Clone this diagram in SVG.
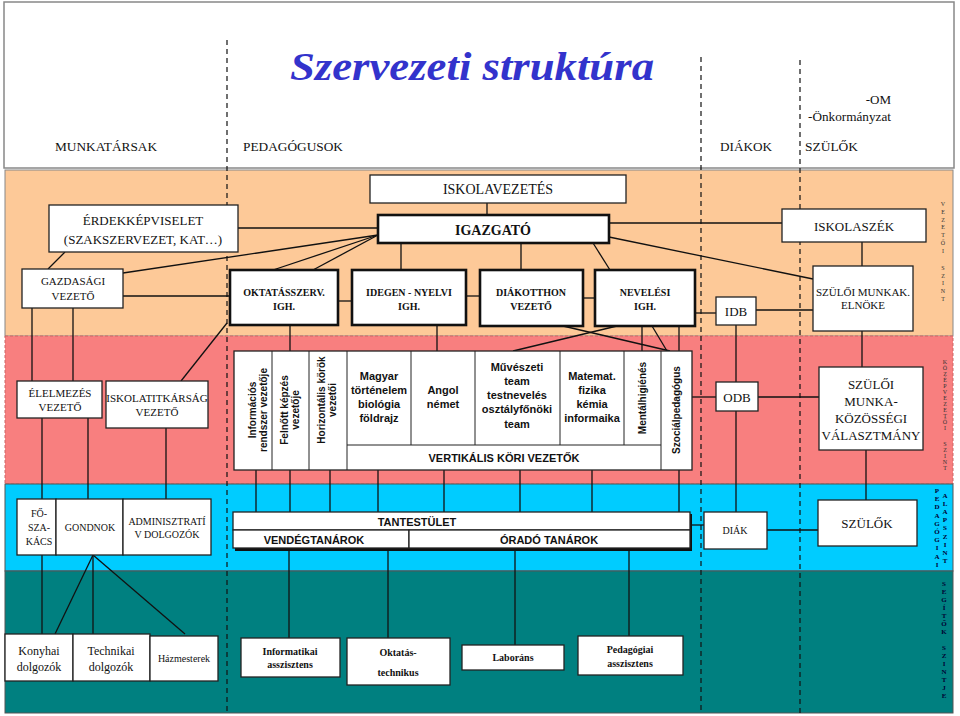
<svg xmlns="http://www.w3.org/2000/svg" width="960" height="716" viewBox="0 0 960 716">
<style>
.b{fill:#fff;stroke:#222;stroke-width:1.3}
.bt{fill:#fff;stroke:#111;stroke-width:2.6}
.s{font-family:"Liberation Serif","Times New Roman","DejaVu Serif",serif;fill:#111;text-anchor:middle}
.sb{font-family:"Liberation Serif","Times New Roman","DejaVu Serif",serif;font-weight:bold;fill:#111;text-anchor:middle}
.a{font-family:"Liberation Sans",Arial,sans-serif;font-weight:bold;fill:#111;text-anchor:middle;font-size:11px}
.ar{font-family:"Liberation Sans",Arial,sans-serif;font-weight:bold;fill:#111;text-anchor:middle;font-size:10px}
.v{font-family:"Liberation Serif","DejaVu Serif",serif;font-size:6px;fill:#333;text-anchor:middle}
.vb{font-family:"Liberation Serif","DejaVu Serif",serif;font-size:7px;fill:#003;text-anchor:middle;font-weight:bold}
.h{font-family:"Liberation Serif","Times New Roman","DejaVu Serif",serif;font-size:13px;fill:#111}
#conn line{stroke:#111;stroke-width:1.3;fill:none}
.d{stroke:#111;stroke-width:1.2;stroke-dasharray:5,4;fill:none}
</style>
<rect x="0" y="0" width="960" height="716" fill="#fff"/>
<rect x="4" y="2" width="950" height="166" fill="#fff" stroke="#888" stroke-width="1.5"/>
<rect x="5" y="170" width="948" height="166" fill="#FDC998" stroke="#888"/>
<rect x="5" y="336" width="948" height="148" fill="#F87F7F" stroke="#c66" stroke-dasharray="3,2"/>
<rect x="5" y="484" width="948" height="87" fill="#00CCFF" stroke="#555"/>
<rect x="5" y="571" width="948" height="142" fill="#008080" stroke="#555"/>
<line class="d" x1="227" y1="40" x2="227" y2="713"/>
<line class="d" x1="701" y1="57" x2="701" y2="713"/>
<line class="d" x1="800" y1="60" x2="800" y2="713"/>
<text x="472" y="80" font-family="'Liberation Serif','DejaVu Serif',serif" font-style="italic" font-weight="bold" font-size="40" fill="#3333CC" text-anchor="middle" textLength="364" lengthAdjust="spacingAndGlyphs">Szervezeti struktúra</text>
<text class="h" x="55" y="151" textLength="102" lengthAdjust="spacingAndGlyphs">MUNKATÁRSAK</text>
<text class="h" x="243" y="151" textLength="100" lengthAdjust="spacingAndGlyphs">PEDAGÓGUSOK</text>
<text class="h" x="720" y="151" textLength="52" lengthAdjust="spacingAndGlyphs">DIÁKOK</text>
<text class="h" x="805" y="151" textLength="53" lengthAdjust="spacingAndGlyphs">SZÜLŐK</text>
<text class="h" x="891" y="104" text-anchor="end">-OM</text>
<text class="h" x="891" y="121" text-anchor="end" textLength="83" lengthAdjust="spacingAndGlyphs">-Önkormányzat</text>
<g id="conn">
<line x1="487" y1="203" x2="487" y2="215"/>
<line x1="238" y1="228" x2="378" y2="228"/>
<line x1="65" y1="252" x2="48" y2="269"/>
<line x1="123" y1="273" x2="378" y2="235"/>
<line x1="378" y1="235" x2="273" y2="270"/>
<line x1="378" y1="235" x2="313" y2="270"/>
<line x1="401" y1="243" x2="401" y2="270"/>
<line x1="521" y1="243" x2="521" y2="270"/>
<line x1="593" y1="243" x2="610" y2="270"/>
<line x1="609" y1="223" x2="782" y2="223"/>
<line x1="609" y1="237" x2="813" y2="279"/>
<line x1="862" y1="242" x2="862" y2="266"/>
<line x1="123" y1="296" x2="230" y2="296"/>
<line x1="338" y1="301" x2="352" y2="301"/>
<line x1="466" y1="296" x2="480" y2="296"/>
<line x1="583" y1="298" x2="595" y2="298"/>
<line x1="695" y1="313" x2="716" y2="313"/>
<line x1="756" y1="310" x2="813" y2="310"/>
<line x1="32" y1="308" x2="32" y2="381"/>
<line x1="73" y1="308" x2="73" y2="381"/>
<line x1="227" y1="323" x2="181" y2="381"/>
<line x1="290" y1="325" x2="290" y2="351"/>
<line x1="437" y1="325" x2="437" y2="351"/>
<line x1="563" y1="326" x2="670" y2="351"/>
<line x1="617" y1="326" x2="513" y2="351"/>
<line x1="652" y1="326" x2="667" y2="351"/>
<line x1="642" y1="326" x2="642" y2="351"/>
<line x1="679" y1="326" x2="679" y2="351"/>
<line x1="736" y1="325" x2="736" y2="382"/>
<line x1="692" y1="397" x2="716" y2="397"/>
<line x1="758" y1="397" x2="819" y2="397"/>
<line x1="862" y1="331" x2="862" y2="367"/>
<line x1="736" y1="411" x2="736" y2="512"/>
<line x1="866" y1="450" x2="866" y2="500"/>
<line x1="42" y1="418" x2="42" y2="499"/>
<line x1="88" y1="418" x2="88" y2="499"/>
<line x1="166" y1="428" x2="166" y2="499"/>
<line x1="256" y1="470" x2="256" y2="512"/>
<line x1="290" y1="470" x2="290" y2="512"/>
<line x1="330" y1="470" x2="330" y2="512"/>
<line x1="378" y1="470" x2="378" y2="512"/>
<line x1="444" y1="470" x2="444" y2="512"/>
<line x1="520" y1="470" x2="520" y2="512"/>
<line x1="592" y1="470" x2="592" y2="512"/>
<line x1="679" y1="470" x2="679" y2="512"/>
<line x1="690" y1="525" x2="704" y2="525"/>
<line x1="767" y1="530" x2="818" y2="530"/>
<line x1="42" y1="555" x2="42" y2="634"/>
<line x1="93" y1="555" x2="55" y2="634"/>
<line x1="93" y1="555" x2="93" y2="634"/>
<line x1="93" y1="555" x2="185" y2="634"/>
<line x1="289" y1="549" x2="289" y2="638"/>
<line x1="388" y1="549" x2="388" y2="638"/>
<line x1="515" y1="549" x2="515" y2="645"/>
<line x1="629" y1="549" x2="629" y2="636"/>
</g>
<g id="iskolavezetes"><rect class="b" x="370" y="175" width="256" height="28"/><text class="s" x="498" y="194" font-size="14">ISKOLAVEZETÉS</text></g>
<g id="igazgato"><rect class="bt" x="378" y="215" width="231" height="28"/><text class="sb" x="493" y="235" font-size="14">IGAZGATÓ</text></g>
<g id="erdek"><rect class="b" x="49" y="205" width="189" height="47"/><text class="s" x="143" y="225" font-size="13">ÉRDEKKÉPVISELET</text><text class="s" x="143" y="244" font-size="13">(SZAKSZERVEZET, KAT…)</text></g>
<g id="gazdasagi"><rect class="b" x="22" y="269" width="101" height="39"/><text class="s" x="73" y="285" font-size="11">GAZDASÁGI</text><text class="s" x="73" y="300" font-size="11">VEZETŐ</text></g>
<g id="oktatas"><rect class="bt" x="230" y="270" width="108" height="55"/><text class="sb" x="284" y="296" font-size="10">OKTATÁSSZERV.</text><text class="sb" x="284" y="310" font-size="10">IGH.</text></g>
<g id="idegen"><rect class="bt" x="352" y="270" width="114" height="55"/><text class="sb" x="409" y="296" font-size="10">IDEGEN - NYELVI</text><text class="sb" x="409" y="310" font-size="10">IGH.</text></g>
<g id="diakotthon"><rect class="bt" x="480" y="270" width="103" height="56"/><text class="sb" x="531" y="296" font-size="10">DIÁKOTTHON</text><text class="sb" x="531" y="310" font-size="10">VEZETŐ</text></g>
<g id="nevelesi"><rect class="bt" x="595" y="270" width="100" height="56"/><text class="sb" x="645" y="296" font-size="10">NEVELÉSI</text><text class="sb" x="645" y="310" font-size="10">IGH.</text></g>
<g id="idb"><rect class="b" x="716" y="297" width="40" height="28"/><text class="s" x="736" y="316" font-size="13">IDB</text></g>
<g id="iskolaszek"><rect class="b" x="782" y="209" width="144" height="33"/><text class="s" x="854" y="231" font-size="13">ISKOLASZÉK</text></g>
<g id="szuloi-munkak"><rect class="b" x="813" y="266" width="100" height="65"/><text class="s" x="863" y="296" font-size="11">SZÜLŐI MUNKAK.</text><text class="s" x="863" y="309" font-size="11">ELNÖKE</text></g>
<g id="elelmezes"><rect class="b" x="17" y="381" width="85" height="37"/><text class="s" x="60" y="397" font-size="11">ÉLELMEZÉS</text><text class="s" x="60" y="411" font-size="11">VEZETŐ</text></g>
<g id="iskolatitkarsag"><rect class="b" x="106" y="381" width="102" height="47"/><text class="s" x="157" y="402" font-size="11">ISKOLATITKÁRSÁG</text><text class="s" x="157" y="416" font-size="11">VEZETŐ</text></g>
<g id="tabla">
<rect class="b" x="234" y="351" width="458" height="119" stroke-width="1.6"/>
<line x1="272" y1="351" x2="272" y2="470" stroke="#222"/>
<line x1="309" y1="351" x2="309" y2="470" stroke="#222"/>
<line x1="347" y1="351" x2="347" y2="470" stroke="#222"/>
<line x1="347" y1="445" x2="661" y2="445" stroke="#222"/>
<line x1="411" y1="351" x2="411" y2="445" stroke="#222"/>
<line x1="475" y1="351" x2="475" y2="445" stroke="#222"/>
<line x1="560" y1="351" x2="560" y2="445" stroke="#222"/>
<line x1="624" y1="351" x2="624" y2="445" stroke="#222"/>
<line x1="661" y1="351" x2="661" y2="470" stroke="#222"/>
<text class="ar" transform="translate(256,410) rotate(-90)">Információs</text>
<text class="ar" transform="translate(267,410) rotate(-90)">rendszer vezetője</text>
<text class="ar" transform="translate(288,410) rotate(-90)">Felnőtt képzés</text>
<text class="ar" transform="translate(299,410) rotate(-90)">vezetője</text>
<text class="ar" transform="translate(325,400) rotate(-90)">Horizontális körök</text>
<text class="ar" transform="translate(336,400) rotate(-90)">vezetői</text>
<text class="a" x="379" y="380">Magyar</text><text class="a" x="379" y="394">történelem</text><text class="a" x="379" y="408">biológia</text><text class="a" x="379" y="422">földrajz</text>
<text class="a" x="443" y="394">Angol</text><text class="a" x="443" y="408">német</text>
<text class="a" x="517" y="371">Művészeti</text><text class="a" x="517" y="385">team</text><text class="a" x="517" y="399">testnevelés</text><text class="a" x="517" y="413">osztályfőnöki</text><text class="a" x="517" y="428">team</text>
<text class="a" x="592" y="380">Matemat.</text><text class="a" x="592" y="394">fizika</text><text class="a" x="592" y="408">kémia</text><text class="a" x="592" y="422">informaika</text>
<text class="ar" transform="translate(646,398) rotate(-90)">Mentálhigiénés</text>
<text class="ar" transform="translate(680,410) rotate(-90)">Szociálpedagógus</text>
<text class="a" x="504" y="462">VERTIKÁLIS KÖRI VEZETŐK</text>
</g>
<g id="odb"><rect class="b" x="716" y="382" width="42" height="29"/><text class="s" x="737" y="402" font-size="13">ODB</text></g>
<g id="szmk"><rect class="b" x="819" y="367" width="104" height="83"/><text class="s" x="871" y="389" font-size="13">SZÜLŐI</text><text class="s" x="871" y="406" font-size="13">MUNKA-</text><text class="s" x="871" y="423" font-size="13">KÖZÖSSÉGI</text><text class="s" x="871" y="440" font-size="13">VÁLASZTMÁNY</text></g>
<g id="foszakacs"><rect class="b" x="17" y="499" width="39" height="56"/><text class="s" x="39" y="517" font-size="10">FŐ-</text><text class="s" x="39" y="531" font-size="10">SZA-</text><text class="s" x="39" y="545" font-size="10">KÁCS</text></g>
<g id="gondnok"><rect class="b" x="56" y="499" width="67" height="56"/><text class="s" x="90" y="531" font-size="10">GONDNOK</text></g>
<g id="adminisztrativ"><rect class="b" x="123" y="499" width="88" height="56"/><text class="s" x="167" y="525" font-size="10">ADMINISZTRATÍ</text><text class="s" x="167" y="538" font-size="10">V DOLGOZÓK</text></g>
<g id="tantestulet">
<rect x="235" y="514" width="457" height="37" fill="#111"/>
<rect class="b" x="233" y="512" width="457" height="18"/>
<rect class="b" x="233" y="530" width="176" height="18"/>
<rect class="b" x="409" y="530" width="281" height="18"/>
<text class="a" x="417" y="526">TANTESTÜLET</text>
<text class="a" x="314" y="544">VENDÉGTANÁROK</text>
<text class="a" x="549" y="544">ÓRADÓ TANÁROK</text>
</g>
<g id="diak"><rect class="b" x="704" y="512" width="63" height="37" stroke-width="1.6"/><text class="s" x="735" y="534" font-size="10">DIÁK</text></g>
<g id="szulok"><rect class="b" x="818" y="500" width="99" height="46"/><text class="s" x="867" y="528" font-size="13">SZÜLŐK</text></g>
<g id="konyhai"><rect class="b" x="5" y="634" width="68" height="47"/><text class="s" x="39" y="655" font-size="12">Konyhai</text><text class="s" x="39" y="671" font-size="12">dolgozók</text></g>
<g id="technikai"><rect class="b" x="73" y="634" width="77" height="47"/><text class="s" x="111" y="655" font-size="12">Technikai</text><text class="s" x="111" y="671" font-size="12">dolgozók</text></g>
<g id="hazmesterek"><rect class="b" x="150" y="636" width="68" height="45"/><text class="s" x="184" y="662" font-size="10">Házmesterek</text></g>
<g id="informatikai"><rect class="b" x="241" y="638" width="99" height="39"/><text class="sb" x="290" y="655" font-size="10">Informatikai</text><text class="sb" x="290" y="668" font-size="10">asszisztens</text></g>
<g id="oktatastech"><rect class="b" x="347" y="638" width="103" height="47"/><text class="sb" x="398" y="656" font-size="10">Oktatás-</text><text class="sb" x="398" y="676" font-size="10">technikus</text></g>
<g id="laborans"><rect class="b" x="462" y="645" width="102" height="25"/><text class="sb" x="513" y="661" font-size="10">Laboráns</text></g>
<g id="pedasszisztens"><rect class="b" x="578" y="636" width="105" height="39"/><text class="sb" x="630" y="653" font-size="10">Pedagógiai</text><text class="sb" x="630" y="667" font-size="10">asszisztens</text></g>
<g id="szintek">
<text class="v"><tspan x="943" y="206">V</tspan><tspan x="943" dy="7.8">E</tspan><tspan x="943" dy="7.8">Z</tspan><tspan x="943" dy="7.8">E</tspan><tspan x="943" dy="7.8">T</tspan><tspan x="943" dy="7.8">Ő</tspan><tspan x="943" dy="7.8">I</tspan><tspan x="943" dy="17">S</tspan><tspan x="943" dy="7.8">Z</tspan><tspan x="943" dy="7.8">I</tspan><tspan x="943" dy="7.8">N</tspan><tspan x="943" dy="7.8">T</tspan></text>
<text class="v" font-size="5"><tspan x="945" y="364">K</tspan><tspan x="945" dy="6">Ö</tspan><tspan x="945" dy="6">Z</tspan><tspan x="945" dy="6">É</tspan><tspan x="945" dy="6">P</tspan><tspan x="945" dy="6">V</tspan><tspan x="945" dy="6">E</tspan><tspan x="945" dy="6">Z</tspan><tspan x="945" dy="6">E</tspan><tspan x="945" dy="6">T</tspan><tspan x="945" dy="6">Ő</tspan><tspan x="945" dy="6">I</tspan><tspan x="945" dy="16">S</tspan><tspan x="945" dy="6">Z</tspan><tspan x="945" dy="6">I</tspan><tspan x="945" dy="6">N</tspan><tspan x="945" dy="6">T</tspan></text>
<text class="vb"><tspan x="937" y="493">P</tspan><tspan x="937" dy="8.2">E</tspan><tspan x="937" dy="8.2">D</tspan><tspan x="937" dy="8.2">A</tspan><tspan x="937" dy="8.2">G</tspan><tspan x="937" dy="8.2">Ó</tspan><tspan x="937" dy="8.2">G</tspan><tspan x="937" dy="8.2">I</tspan><tspan x="937" dy="8.2">A</tspan><tspan x="937" dy="8.2">I</tspan></text>
<text class="vb"><tspan x="945" y="498">A</tspan><tspan x="945" dy="8.1">L</tspan><tspan x="945" dy="8.1">A</tspan><tspan x="945" dy="8.1">P</tspan><tspan x="945" dy="8.1">S</tspan><tspan x="945" dy="8.1">Z</tspan><tspan x="945" dy="8.1">I</tspan><tspan x="945" dy="8.1">N</tspan><tspan x="945" dy="8.1">T</tspan></text>
<text class="vb"><tspan x="944" y="586">S</tspan><tspan x="944" dy="8">E</tspan><tspan x="944" dy="8">G</tspan><tspan x="944" dy="8">Í</tspan><tspan x="944" dy="8">T</tspan><tspan x="944" dy="8">Ő</tspan><tspan x="944" dy="8">K</tspan><tspan x="944" dy="16">S</tspan><tspan x="944" dy="8">Z</tspan><tspan x="944" dy="8">I</tspan><tspan x="944" dy="8">N</tspan><tspan x="944" dy="8">T</tspan><tspan x="944" dy="8">J</tspan><tspan x="944" dy="8">E</tspan></text>
</g>
</svg>
